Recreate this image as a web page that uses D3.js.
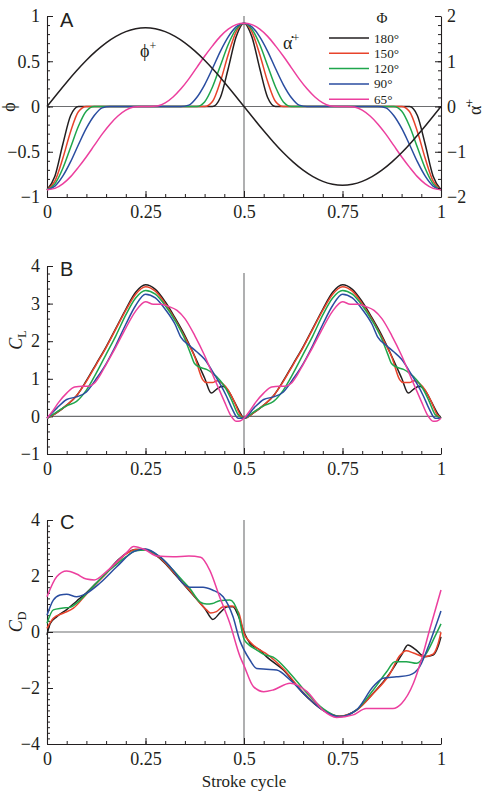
<!DOCTYPE html>
<html><head><meta charset="utf-8">
<script src="https://cdn.jsdelivr.net/npm/d3@7"></script>
<style>body{margin:0;background:#fff}svg{display:block}</style>
</head><body>
<svg id="chart" width="486" height="792"></svg>
<script>
// ---------- data ----------
const seriesNames = ["180°","150°","120°","90°","65°"];
const seriesColors = ["#231f20","#e8432b","#1fa64c","#2a4da0","#ec3f9e"];
const xTickValues = [0,0.25,0.5,0.75,1];
const xTickLabels = ["0","0.25","0.5","0.75","1"];
const yTicksA = [-1,-0.5,0,0.5,1];
const yTicksARight = [-2,-1,0,1,2];
const yTicksB = [-1,0,1,2,3,4];
const yTicksC = [-4,-2,0,2,4];

// panel A: stroke angle phi+ (left axis), sampled every 0.025
const phiValues = [0,0.136,0.269,0.395,0.512,0.615,0.704,0.775,0.827,0.859,0.87,0.859,0.827,0.775,0.704,0.615,0.512,0.395,0.269,0.136,0,
  -0.136,-0.269,-0.395,-0.512,-0.615,-0.704,-0.775,-0.827,-0.859,-0.87,-0.859,-0.827,-0.775,-0.704,-0.615,-0.512,-0.395,-0.269,-0.136,0];
// panel A: rotation rate alpha-dot+ (right axis), sampled every 0.02
const alpha180 = [-1.84,-1.54,-0.84,-0.20,0,0,0,0,0,0,0,0,0,0,0,0,0,0,0,0,0,0,0.20,0.84,1.54,1.84,1.54,0.84,0.20,0,0,0,0,0,0,0,0,0,0,0,0,0,0,0,0,0,0,-0.20,-0.84,-1.54,-1.84];
const alpha150 = [-1.84,-1.65,-1.15,-0.55,-0.11,0,0,0,0,0,0,0,0,0,0,0,0,0,0,0,0,0.11,0.55,1.15,1.65,1.84,1.65,1.15,0.55,0.11,0,0,0,0,0,0,0,0,0,0,0,0,0,0,0,0,-0.11,-0.55,-1.15,-1.65,-1.84];
const alpha120 = [-1.84,-1.71,-1.37,-0.90,-0.43,-0.10,0,0,0,0,0,0,0,0,0,0,0,0,0,0,0.10,0.43,0.90,1.37,1.71,1.84,1.71,1.37,0.90,0.43,0.10,0,0,0,0,0,0,0,0,0,0,0,0,0,0,-0.10,-0.43,-0.90,-1.37,-1.71,-1.84];
const alpha90 = [-1.84,-1.76,-1.54,-1.22,-0.84,-0.48,-0.20,-0.03,0,0,0,0,0,0,0,0,0,0,0.03,0.20,0.48,0.84,1.22,1.54,1.76,1.84,1.76,1.54,1.22,0.84,0.48,0.20,0.03,0,0,0,0,0,0,0,0,0,0,-0.03,-0.20,-0.48,-0.84,-1.22,-1.54,-1.76,-1.84];
const alpha65 = [-1.84,-1.81,-1.71,-1.55,-1.34,-1.11,-0.86,-0.61,-0.39,-0.21,-0.08,-0.01,0,0,0.01,0.08,0.21,0.39,0.61,0.86,1.11,1.34,1.55,1.71,1.81,1.84,1.81,1.71,1.55,1.34,1.11,0.86,0.61,0.39,0.21,0.08,0.01,0,0,-0.01,-0.08,-0.21,-0.39,-0.61,-0.86,-1.11,-1.34,-1.55,-1.71,-1.81,-1.84];

// panel B: lift coefficient [t, CL]
const cl180 = [[0,-0.05],[0.025,0.1],[0.05,0.3],[0.075,0.55],[0.1,0.95],[0.125,1.4],[0.15,1.85],[0.175,2.35],[0.2,2.85],[0.225,3.3],[0.25,3.5],[0.275,3.38],[0.3,3.05],[0.325,2.62],[0.35,2.15],[0.375,1.6],[0.4,1.02],[0.417,0.62],[0.43,0.72],[0.445,0.8],[0.46,0.68],[0.475,0.4],[0.49,0.1],[0.5,-0.05],
 [0.525,0.1],[0.55,0.3],[0.575,0.55],[0.6,0.95],[0.625,1.4],[0.65,1.85],[0.675,2.35],[0.7,2.85],[0.725,3.3],[0.75,3.5],[0.775,3.38],[0.8,3.05],[0.825,2.62],[0.85,2.15],[0.875,1.6],[0.9,1.02],[0.917,0.62],[0.93,0.72],[0.945,0.8],[0.96,0.68],[0.975,0.4],[0.99,0.1],[1,-0.05]];
const cl150 = [[0,-0.05],[0.025,0.1],[0.05,0.3],[0.075,0.55],[0.1,0.93],[0.125,1.38],[0.15,1.83],[0.175,2.33],[0.2,2.82],[0.225,3.25],[0.25,3.45],[0.275,3.33],[0.3,3.0],[0.325,2.58],[0.35,2.1],[0.375,1.58],[0.395,0.98],[0.405,0.9],[0.42,0.9],[0.432,0.95],[0.445,0.88],[0.46,0.7],[0.475,0.4],[0.49,0.05],[0.5,-0.05],
 [0.525,0.1],[0.55,0.3],[0.575,0.55],[0.6,0.93],[0.625,1.38],[0.65,1.83],[0.675,2.33],[0.7,2.82],[0.725,3.25],[0.75,3.45],[0.775,3.33],[0.8,3.0],[0.825,2.58],[0.85,2.1],[0.875,1.58],[0.895,0.98],[0.905,0.9],[0.92,0.9],[0.932,0.95],[0.945,0.88],[0.96,0.7],[0.975,0.4],[0.99,0.05],[1,-0.05]];
const cl120 = [[0,-0.05],[0.025,0.12],[0.05,0.28],[0.075,0.4],[0.1,0.7],[0.125,1.15],[0.15,1.65],[0.175,2.15],[0.2,2.7],[0.225,3.15],[0.25,3.35],[0.275,3.25],[0.3,2.95],[0.325,2.55],[0.35,2.05],[0.365,1.65],[0.375,1.4],[0.39,1.3],[0.405,1.25],[0.42,1.15],[0.44,0.95],[0.455,0.72],[0.47,0.4],[0.485,0.05],[0.5,-0.05],
 [0.525,0.12],[0.55,0.28],[0.575,0.4],[0.6,0.7],[0.625,1.15],[0.65,1.65],[0.675,2.15],[0.7,2.7],[0.725,3.15],[0.75,3.35],[0.775,3.25],[0.8,2.95],[0.825,2.55],[0.85,2.05],[0.865,1.65],[0.875,1.4],[0.89,1.3],[0.905,1.25],[0.92,1.15],[0.94,0.95],[0.955,0.72],[0.97,0.4],[0.985,0.05],[1,-0.05]];
const cl90 = [[0,-0.05],[0.025,0.22],[0.05,0.45],[0.075,0.52],[0.1,0.65],[0.125,1.0],[0.15,1.4],[0.175,1.9],[0.2,2.45],[0.225,2.95],[0.25,3.25],[0.275,3.15],[0.3,2.85],[0.325,2.45],[0.34,2.1],[0.36,1.9],[0.38,1.72],[0.4,1.52],[0.42,1.2],[0.44,0.85],[0.455,0.55],[0.47,0.2],[0.485,-0.05],[0.5,-0.05],
 [0.525,0.22],[0.55,0.45],[0.575,0.52],[0.6,0.65],[0.625,1.0],[0.65,1.4],[0.675,1.9],[0.7,2.45],[0.725,2.95],[0.75,3.25],[0.775,3.15],[0.8,2.85],[0.825,2.45],[0.84,2.1],[0.86,1.9],[0.88,1.72],[0.9,1.52],[0.92,1.2],[0.94,0.85],[0.955,0.55],[0.97,0.2],[0.985,-0.05],[1,-0.05]];
const cl65 = [[0,-0.05],[0.015,0.15],[0.03,0.38],[0.05,0.62],[0.07,0.78],[0.09,0.8],[0.105,0.8],[0.12,0.88],[0.135,1.1],[0.15,1.38],[0.175,1.85],[0.2,2.35],[0.225,2.8],[0.25,3.05],[0.27,2.98],[0.29,2.98],[0.31,2.92],[0.33,2.82],[0.35,2.6],[0.375,2.15],[0.4,1.62],[0.425,1.0],[0.45,0.4],[0.465,0.05],[0.48,-0.13],[0.49,-0.12],[0.5,-0.05],
 [0.515,0.15],[0.53,0.38],[0.55,0.62],[0.57,0.78],[0.59,0.8],[0.605,0.8],[0.62,0.88],[0.635,1.1],[0.65,1.38],[0.675,1.85],[0.7,2.35],[0.725,2.8],[0.75,3.05],[0.77,2.98],[0.79,2.98],[0.81,2.92],[0.83,2.82],[0.85,2.6],[0.875,2.15],[0.9,1.62],[0.925,1.0],[0.95,0.4],[0.965,0.05],[0.98,-0.13],[0.99,-0.12],[1,-0.05]];

// panel C: drag coefficient [t, CD]
const cd180 = [[0,-0.1],[0.008,0.3],[0.025,0.55],[0.05,0.8],[0.075,1.1],[0.1,1.4],[0.125,1.75],[0.15,2.1],[0.175,2.5],[0.2,2.8],[0.225,2.95],[0.25,2.95],[0.275,2.75],[0.3,2.45],[0.325,2.05],[0.35,1.65],[0.375,1.25],[0.4,0.85],[0.421,0.45],[0.44,0.7],[0.458,0.9],[0.472,0.9],[0.485,0.6],[0.5,0.0],[0.515,-0.4],[0.54,-0.64],[0.557,-0.88],[0.6,-1.36],[0.65,-2.19],[0.7,-2.79],[0.742,-3.02],[0.785,-2.79],[0.828,-2.19],[0.87,-1.48],[0.9,-0.82],[0.916,-0.46],[0.935,-0.62],[0.958,-0.88],[0.98,-0.82],[0.993,-0.5],[1,-0.17]];
const cd150 = [[0,0.13],[0.016,0.49],[0.041,0.67],[0.067,0.85],[0.1,1.35],[0.125,1.72],[0.15,2.08],[0.175,2.45],[0.2,2.78],[0.225,2.95],[0.25,2.95],[0.275,2.77],[0.3,2.47],[0.325,2.08],[0.35,1.68],[0.375,1.27],[0.39,1.0],[0.405,0.79],[0.415,0.68],[0.43,0.73],[0.447,0.9],[0.47,0.93],[0.487,0.68],[0.5,-0.05],[0.515,-0.35],[0.54,-0.64],[0.557,-0.78],[0.6,-1.32],[0.65,-2.15],[0.7,-2.77],[0.742,-3.0],[0.785,-2.8],[0.828,-2.2],[0.87,-1.5],[0.895,-0.85],[0.912,-0.67],[0.93,-0.75],[0.958,-0.88],[0.98,-0.79],[0.993,-0.4],[1,-0.01]];
const cd120 = [[0,0.31],[0.016,0.79],[0.037,0.85],[0.058,0.88],[0.084,1.14],[0.117,1.62],[0.15,2.1],[0.175,2.4],[0.2,2.68],[0.225,2.9],[0.25,2.93],[0.286,2.69],[0.32,2.21],[0.345,1.82],[0.362,1.56],[0.388,1.08],[0.405,1.0],[0.42,1.02],[0.438,1.12],[0.464,1.14],[0.485,0.67],[0.5,-0.25],[0.512,-0.45],[0.53,-0.62],[0.55,-0.8],[0.574,-0.9],[0.617,-1.48],[0.66,-2.19],[0.7,-2.73],[0.742,-3.02],[0.785,-2.79],[0.828,-2.07],[0.862,-1.42],[0.883,-1.06],[0.912,-1.06],[0.938,-1.12],[0.963,-0.76],[0.985,-0.15],[1,0.29]];
const cd90 = [[0,0.6],[0.016,1.14],[0.033,1.32],[0.05,1.35],[0.075,1.26],[0.1,1.38],[0.134,1.74],[0.177,2.33],[0.22,2.87],[0.25,2.96],[0.286,2.69],[0.32,2.21],[0.345,1.74],[0.362,1.6],[0.396,1.6],[0.42,1.5],[0.447,1.26],[0.472,0.55],[0.489,-0.29],[0.5,-0.64],[0.515,-1.0],[0.532,-1.3],[0.557,-1.33],[0.583,-1.36],[0.617,-1.71],[0.66,-2.31],[0.7,-2.79],[0.742,-3.02],[0.785,-2.79],[0.828,-1.95],[0.853,-1.65],[0.887,-1.6],[0.92,-1.54],[0.946,-1.24],[0.971,-0.4],[1,0.75]];
const cd65 = [[0,1.26],[0.025,1.98],[0.05,2.18],[0.075,2.07],[0.1,1.89],[0.12,1.86],[0.15,2.15],[0.2,2.81],[0.22,3.05],[0.25,2.93],[0.28,2.71],[0.32,2.69],[0.36,2.71],[0.39,2.67],[0.413,2.21],[0.438,1.26],[0.464,0.31],[0.49,-0.88],[0.5,-1.2],[0.524,-1.95],[0.55,-2.13],[0.574,-2.07],[0.617,-1.83],[0.66,-2.13],[0.7,-2.79],[0.735,-3.05],[0.777,-2.96],[0.81,-2.73],[0.845,-2.73],[0.878,-2.73],[0.9,-2.55],[0.93,-1.83],[0.95,-1.0],[0.971,0.07],[1,1.5]];

// ---------- drawing ----------
const svg = d3.select("#chart");
const ink = "#231f20";
const serif = "'Liberation Serif','Times New Roman',serif";
const sans = "'Liberation Sans',Arial,sans-serif";
const x = d3.scaleLinear().domain([0,1]).range([47,441]);
const fmt = v => (v < 0 ? "\u2212" : "") + String(Math.abs(v));

function styleAxis(g, size) {
  g.attr("font-family", null).attr("font-size", null);
  g.select(".domain").attr("stroke", ink).attr("stroke-width", 1.1);
  g.selectAll(".tick line").attr("stroke", ink).attr("stroke-width", 1);
  g.selectAll(".tick text").attr("font-family", serif).attr("font-size", size).attr("fill", ink);
}

function panel(cfg) {
  const y = d3.scaleLinear().domain(cfg.yDomain).range(cfg.yRange);
  const g = svg.append("g");
  g.append("line").attr("x1", x(0)).attr("x2", x(1)).attr("y1", y(0)).attr("y2", y(0))
    .attr("stroke", "#6d6e70").attr("stroke-width", 1.1);
  g.append("line").attr("x1", x(0.5)).attr("x2", x(0.5)).attr("y1", cfg.midTop !== undefined ? cfg.midTop : y.range()[1]).attr("y2", y.range()[0])
    .attr("stroke", "#6d6e70").attr("stroke-width", 1.1);
  const xb = g.append("g").attr("transform", `translate(0,${cfg.yRange[0]})`);
  xb.call(d3.axisBottom(x).tickValues(d3.range(0, 1.0001, 0.05)).tickSizeInner(-3).tickSizeOuter(0).tickFormat(""));
  xb.select(".domain").remove();
  xb.selectAll(".tick line").attr("stroke", ink);
  const xa = g.append("g").attr("transform", `translate(0,${cfg.yRange[0]})`)
    .call(d3.axisBottom(x).tickValues(xTickValues).tickSizeInner(-6).tickSizeOuter(0).tickPadding(8)
      .tickFormat((d, i) => xTickLabels[i]));
  styleAxis(xa, 18);
  const yb = g.append("g").attr("transform", `translate(${x(0)},0)`)
    .call(d3.axisLeft(y).tickValues(d3.range(cfg.yDomain[0], cfg.yDomain[1] + 1e-6, cfg.minor)).tickSizeInner(-3).tickSizeOuter(0).tickFormat(""));
  yb.select(".domain").remove();
  yb.selectAll(".tick line").attr("stroke", ink);
  const ya = g.append("g").attr("transform", `translate(${x(0)},0)`)
    .call(d3.axisLeft(y).tickValues(cfg.yTicks).tickSizeInner(-6).tickSizeOuter(0).tickPadding(7).tickFormat(fmt));
  styleAxis(ya, 18);
  const line = d3.line().x(d => x(d[0])).y(d => y(d[1])).curve(d3.curveMonotoneX);
  cfg.curves.forEach((c, i) => {
    g.append("path").attr("d", line(c)).attr("fill", "none")
      .attr("stroke", seriesColors[i]).attr("stroke-width", 1.5).attr("stroke-linejoin", "round");
  });
  g.append("text").attr("x", 60).attr("y", cfg.letterY).text(cfg.letter)
    .attr("font-family", sans).attr("font-size", 20).attr("fill", ink);
  return {g, y};
}

// Panel A
const tGridPhi = d3.range(41).map(i => i / 40);
const tGridAlpha = d3.range(51).map(i => i / 50);
const A = panel({
  yDomain: [-1, 1], yRange: [197, 16], yTicks: yTicksA, minor: 0.1,
  letter: "A", letterY: 27, curves: []
});
const yR = d3.scaleLinear().domain([-2, 2]).range([197, 16]);
const lineR = d3.line().x(d => x(d[0])).y(d => yR(d[1])).curve(d3.curveMonotoneX);
[alpha180, alpha150, alpha120, alpha90, alpha65].forEach((arr, i) => {
  A.g.append("path").attr("d", lineR(arr.map((v, k) => [tGridAlpha[k], v])))
    .attr("fill", "none").attr("stroke", seriesColors[i]).attr("stroke-width", 1.5);
});
A.g.append("path").attr("d", d3.line().x(d => x(d[0])).y(d => A.y(d[1])).curve(d3.curveNatural)(phiValues.map((v, k) => [tGridPhi[k], v])))
  .attr("fill", "none").attr("stroke", ink).attr("stroke-width", 1.5);
const rb = A.g.append("g").attr("transform", `translate(${x(1)},0)`)
  .call(d3.axisRight(yR).tickValues(d3.range(-2, 2.0001, 0.2)).tickSizeInner(-3).tickSizeOuter(0).tickFormat(""));
rb.select(".domain").remove();
rb.selectAll(".tick line").attr("stroke", ink);
const ra = A.g.append("g").attr("transform", `translate(${x(1)},0)`)
  .call(d3.axisRight(yR).tickValues(yTicksARight).tickSizeInner(-6).tickSizeOuter(0).tickPadding(6).tickFormat(fmt));
styleAxis(ra, 18);
const phiLab = A.g.append("text").attr("x", 140).attr("y", 57).attr("font-family", serif).attr("font-size", 18).attr("fill", ink);
phiLab.append("tspan").text("ϕ");
phiLab.append("tspan").attr("dy", -7).attr("font-size", 12).text("+");
const alLab = A.g.append("text").attr("x", 283).attr("y", 49).attr("font-family", serif).attr("font-size", 18).attr("fill", ink);
alLab.append("tspan").text("α\u0307");
alLab.append("tspan").attr("dy", -7).attr("font-size", 12).text("+");
A.g.append("text").attr("transform", "translate(15,107) rotate(-90)").attr("text-anchor", "middle")
  .attr("font-family", serif).attr("font-size", 18).attr("fill", ink).text("ϕ");
const arLab = A.g.append("text").attr("transform", "translate(481,107) rotate(-90)").attr("text-anchor", "middle")
  .attr("font-family", serif).attr("font-size", 18).attr("fill", ink);
arLab.append("tspan").text("α\u0307");
arLab.append("tspan").attr("dy", -7).attr("font-size", 12).text("+");
const leg = A.g.append("g");
leg.append("text").attr("x", 382).attr("y", 23).attr("text-anchor", "middle")
  .attr("font-family", serif).attr("font-size", 15).attr("fill", ink).text("Φ");
seriesNames.forEach((n, i) => {
  const yy = 38 + i * 15.3;
  leg.append("line").attr("x1", 329).attr("x2", 369).attr("y1", yy).attr("y2", yy)
    .attr("stroke", seriesColors[i]).attr("stroke-width", 1.5);
  leg.append("text").attr("x", 374).attr("y", yy + 4.5).attr("font-family", serif).attr("font-size", 13.2)
    .attr("fill", ink).text(n);
});

// Panel B
const B = panel({
  yDomain: [-1, 4], yRange: [454, 266], yTicks: yTicksB, minor: 0.2, midTop: 273,
  letter: "B", letterY: 276, curves: [cl180, cl150, cl120, cl90, cl65]
});
const clLab = B.g.append("text").attr("transform", "translate(22,340) rotate(-90)").attr("text-anchor", "middle")
  .attr("font-family", serif).attr("font-size", 18).attr("fill", ink);
clLab.append("tspan").attr("font-style", "italic").text("C");
clLab.append("tspan").attr("dy", 4).attr("font-size", 12).text("L");

// Panel C
const C = panel({
  yDomain: [-4, 4], yRange: [744, 520], yTicks: yTicksC, minor: 0.2,
  letter: "C", letterY: 529, curves: [cd180, cd150, cd120, cd90, cd65]
});
const cdLab = C.g.append("text").attr("transform", "translate(22,622) rotate(-90)").attr("text-anchor", "middle")
  .attr("font-family", serif).attr("font-size", 18).attr("fill", ink);
cdLab.append("tspan").attr("font-style", "italic").text("C");
cdLab.append("tspan").attr("dy", 4).attr("font-size", 12).text("D");

svg.append("text").attr("x", x(0.5)).attr("y", 787).attr("text-anchor", "middle")
  .attr("font-family", serif).attr("font-size", 17).attr("fill", ink).text("Stroke cycle");
</script>
</body></html>
